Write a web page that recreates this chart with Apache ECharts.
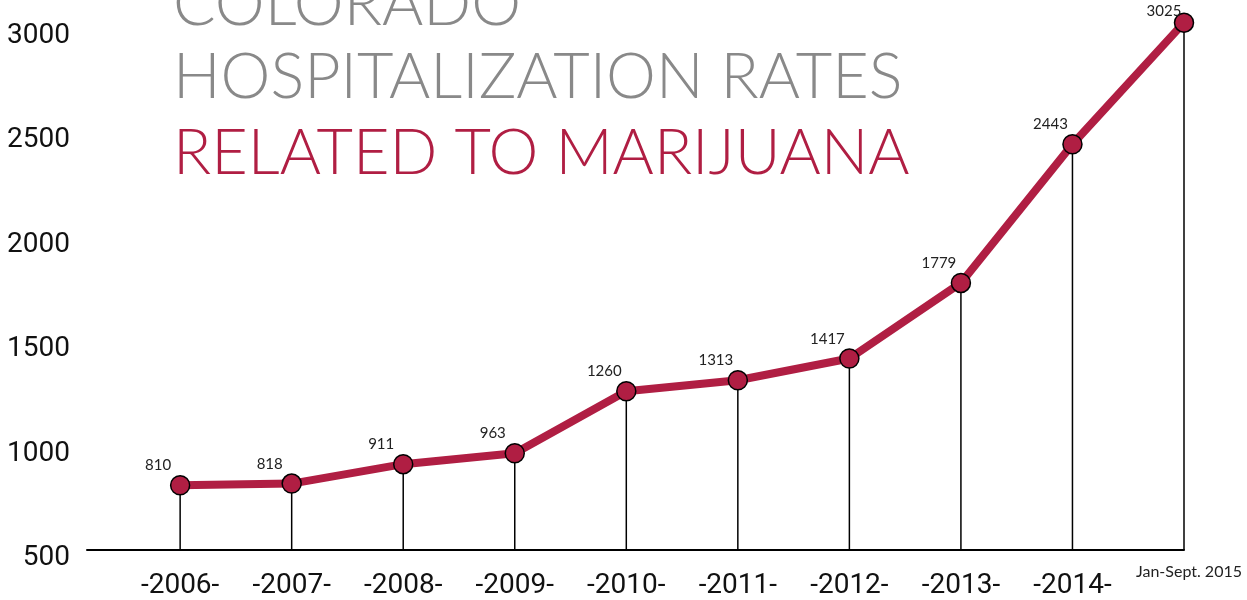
<!DOCTYPE html>
<html><head><meta charset="utf-8">
<script src="https://cdn.jsdelivr.net/npm/echarts@6/dist/echarts.min.js"></script>
<style>html,body{margin:0;padding:0;background:#fff}#c{width:1247px;height:600px}</style>
</head><body><div id="c"></div>
<script>
const categories = ['-2006-','-2007-','-2008-','-2009-','-2010-','-2011-','-2012-','-2013-','-2014-','Jan-Sept. 2015'];
const hospitalizations = [810, 818, 911, 963, 1260, 1313, 1417, 1779, 2443, 3025];
const yTicks = [500, 1000, 1500, 2000, 2500, 3000];
const titleLines = ['COLORADO', 'HOSPITALIZATION RATES', 'RELATED TO MARIJUANA'];

const RED = '#b01e43';
const GRAY = '#898989';
const NUM_FONT = 'Roboto, "Liberation Sans", sans-serif';
const TITLE_FONT = 'Lato, "Open Sans", sans-serif';

const chart = echarts.init(document.getElementById('c'));
const last = hospitalizations.length - 1;
const pts = hospitalizations.map((v, i) => [i, v]);
const lineData = pts.map((p, i) => i === last ? { value: p, label: { offset: [-20, 11] } } : p);

const option = {
  animation: false,
  backgroundColor: '#fff',
  grid: { left: 87, right: 63, top: 7, bottom: 50, containLabel: false, outerBoundsMode: 'none' },
  xAxis: {
    type: 'value', min: -0.835, max: last,
    axisLine: { show: true, lineStyle: { color: '#000', width: 2 } },
    axisTick: { show: false },
    splitLine: { show: false },
    axisLabel: {
      customValues: categories.map((c, i) => i),
      margin: 36,
      verticalAlign: 'middle',
      formatter: v => {
        const i = Math.round(v);
        return i === last ? '{s|' + categories[i] + '}' : '{b|' + categories[i] + '}';
      },
      rich: {
        b: { fontSize: 28, fontWeight: 'normal', fontFamily: NUM_FONT, color: '#111' },
        s: { fontSize: 16, fontFamily: 'Lato, sans-serif', color: '#222', padding: [0, 0, 28, 10] }
      }
    }
  },
  yAxis: {
    type: 'value', min: 500, max: 3100,
    axisLine: { show: false },
    axisTick: { show: false },
    splitLine: { show: false },
    axisLabel: {
      customValues: yTicks,
      margin: 17,
      formatter: v => '{a|' + String(v) + '}',
      rich: {
        a: { fontSize: 28, fontWeight: 'normal', fontFamily: NUM_FONT, color: '#111', padding: [16, 0, 0, 0] }
      }
    }
  },
  graphic: titleLines.map((t, i) => ({
    type: 'text',
    x: 173,
    y: [5, 78, 154][i],
    z: 10,
    style: {
      text: t,
      fill: i === 2 ? RED : GRAY,
      font: '300 63px ' + TITLE_FONT,
      verticalAlign: 'middle',
      align: 'left'
    }
  })),
  series: [
    {
      type: 'custom',
      z: 1,
      data: pts,
      renderItem: (params, api) => {
        const top = api.coord([api.value(0), api.value(1)]);
        const bot = api.coord([api.value(0), yTicks[0]]);
        return {
          type: 'line',
          shape: { x1: top[0], y1: top[1], x2: bot[0], y2: bot[1] },
          style: { stroke: '#000', lineWidth: 1.5 }
        };
      }
    },
    {
      type: 'line',
      z: 3,
      data: lineData,
      symbol: 'circle',
      symbolSize: 19,
      lineStyle: { color: RED, width: 8 },
      itemStyle: { color: RED, borderColor: '#000', borderWidth: 1.5 },
      label: {
        show: true,
        position: 'top',
        offset: [-22, 3],
        fontSize: 15,
        fontFamily: 'Lato, sans-serif',
        color: '#222',
        formatter: p => String(p.value[1])
      }
    }
  ]
};
chart.setOption(option);
</script>
</body></html>
